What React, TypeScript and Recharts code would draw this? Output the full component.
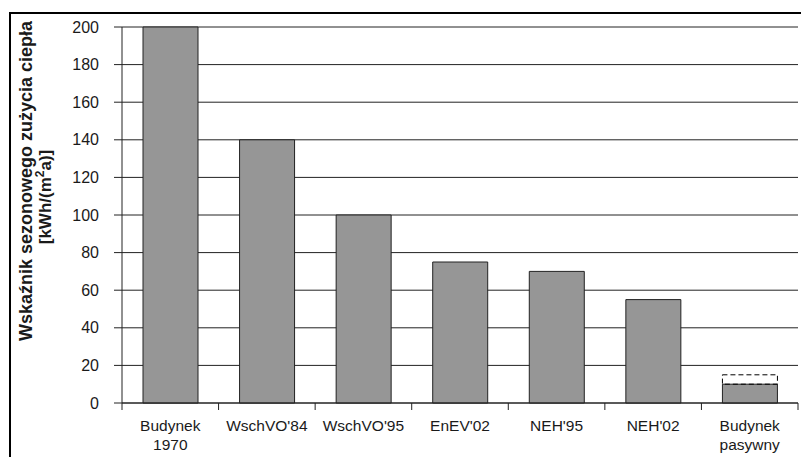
import React from "react";
import { BarChart, Bar, XAxis, YAxis, CartesianGrid } from "recharts";

const categories = ["Budynek\n1970", "WschVO'84", "WschVO'95", "EnEV'02", "NEH'95", "NEH'02", "Budynek\npasywny"];
const heatUse = [200, 140, 100, 75, 70, 55, 10];
const heatUseRange = [0, 0, 0, 0, 0, 0, 5];
const yTicks = [0, 20, 40, 60, 80, 100, 120, 140, 160, 180, 200];

const data = categories.map((c, i) => ({ name: c, value: heatUse[i], extra: heatUseRange[i] }));

const W = 801;
const H = 457;
const M = { top: 27, right: 3, left: 0, bottom: 0 };
const YW = 122;
const XH = 54;
const FONT = "'Liberation Sans', Arial, sans-serif";

const band = (W - M.left - M.right - YW) / categories.length;

const XTick = (props: any) => {
  const { x, y, payload, index } = props;
  const lines = String(payload.value).split("\n");
  return (
    <g>
      <line x1={x - band / 2} x2={x - band / 2} y1={y} y2={y + 7} stroke="#222" />
      {index === categories.length - 1 && (
        <line x1={x + band / 2} x2={x + band / 2} y1={y} y2={y + 7} stroke="#222" />
      )}
      {lines.map((l, i) => (
        <text key={i} x={x} y={y + 28 + i * 19} textAnchor="middle" fontSize={15.5} fill="#1a1a1a" fontFamily={FONT}>
          {l}
        </text>
      ))}
    </g>
  );
};

const YLabel = () => (
  <g fontFamily={FONT} fontWeight="bold" fill="#1a1a1a">
    <text x={32} y={181} transform="rotate(-90 32 181)" textAnchor="middle" fontSize={18}>
      Wskaźnik sezonowego zużycia ciepła
    </text>
    <text x={51} y={197} transform="rotate(-90 51 197)" textAnchor="middle" fontSize={17}>
      [kWh/(m<tspan dy={-7} fontSize={12}>2</tspan><tspan dy={7}>a)]</tspan>
    </text>
  </g>
);

export default function App() {
  return (
    <div style={{ position: "absolute", left: 0, top: 0, width: W, height: H, background: "#fff" }}>
      <div
        style={{
          position: "absolute",
          left: 9,
          top: 12,
          width: W - 9,
          height: H - 12,
          borderTop: "2px solid #000",
          borderLeft: "2px solid #000",
          boxSizing: "border-box",
        }}
      />
      <div style={{ position: "absolute", left: 0, top: 0 }}>
        <BarChart width={W} height={H} data={data} margin={M} barSize={55}>
          <CartesianGrid vertical={false} stroke="#222" strokeWidth={1} />
          <XAxis
            dataKey="name"
            height={XH}
            tickSize={0}
            tickMargin={0}
            tickLine={false}
            axisLine={{ stroke: "#222" }}
            tick={<XTick />}
            interval={0}
          />
          <YAxis
            width={YW}
            domain={[0, 200]}
            ticks={yTicks}
            tickSize={8}
            tickMargin={15}
            axisLine={{ stroke: "#222" }}
            tickLine={{ stroke: "#222" }}
            tick={{ fontSize: 16, fill: "#1a1a1a", fontFamily: FONT }}
            interval={0}
          />
          <YAxis
            yAxisId="r"
            orientation="right"
            width={0}
            domain={[0, 200]}
            tick={false}
            tickLine={false}
            axisLine={{ stroke: "#222" }}
          />
          <Bar dataKey="value" stackId="a" fill="#969696" stroke="#222" strokeWidth={1} isAnimationActive={false} />
          <Bar
            dataKey="extra"
            stackId="a"
            fill="none"
            stroke="#000"
            strokeWidth={1}
            strokeDasharray="5 3"
            isAnimationActive={false}
          />
        </BarChart>
      </div>
      <svg style={{ position: "absolute", left: 0, top: 0, pointerEvents: "none" }} width={80} height={H}>
        <YLabel />
      </svg>
    </div>
  );
}
